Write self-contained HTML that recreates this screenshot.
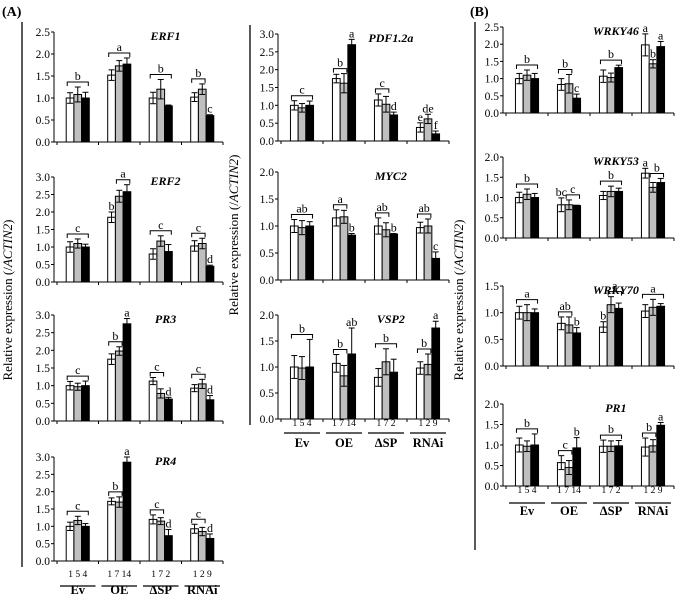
<!DOCTYPE html>
<html><head><meta charset="utf-8"><style>
html,body{margin:0;padding:0;background:#fff;}
svg{display:block;}
svg text{font-family:"Liberation Serif","DejaVu Serif",serif;}
</style></head><body>
<svg id="c" width="675" height="598" viewBox="0 0 675 598" font-family="Liberation Serif, serif">
<text x="2" y="16" font-size="14" font-weight="bold">(A)</text>
<text x="470" y="16" font-size="14" font-weight="bold">(B)</text>
<line x1="22" y1="22" x2="22" y2="567" stroke="#000" stroke-width="1.3"/>
<line x1="250" y1="25" x2="250" y2="425" stroke="#000" stroke-width="1.3"/>
<line x1="475" y1="22" x2="475" y2="550" stroke="#000" stroke-width="1.3"/>
<text transform="translate(12,300) rotate(-90)" text-anchor="middle" font-size="13">Relative expression (/<tspan font-style="italic">ACTIN2</tspan>)</text>
<text transform="translate(238,235) rotate(-90)" text-anchor="middle" font-size="13">Relative expression (/<tspan font-style="italic">ACTIN2</tspan>)</text>
<text transform="translate(463,300) rotate(-90)" text-anchor="middle" font-size="13">Relative expression (/<tspan font-style="italic">ACTIN2</tspan>)</text>
</svg>
<script>
const groups=["Ev","OE","ΔSP","RNAi"];
const lines=["1 5 4","1 7 14","1 7 2","1 2 9"];
const genes=["ERF1","ERF2","PR3","PR4","PDF1.2a","MYC2","VSP2","WRKY46","WRKY53","WRKY70","PR1"];
const vERF1=[[1.0,1.08,1.0],[1.52,1.73,1.77],[1.0,1.2,0.82],[1.02,1.2,0.6]];
const eERF1=[[.12,.17,.13],[.12,.12,.14],[.13,.22,.02],[.1,.12,.02]];
const aERF1=[[0,0,2,"b"],[1,0,2,"a"],[2,0,2,"b"],[3,0,1,"b"],[3,2,2,"c"]];
const vERF2=[[1.0,1.1,1.0],[1.85,2.45,2.58],[0.8,1.17,0.87],[1.03,1.1,0.45]];
const eERF2=[[.15,.13,.08],[.15,.17,.2],[.15,.15,.2],[.15,.15,.03]];
const aERF2=[[0,0,2,"c"],[1,0,0,"b"],[1,1,2,"a"],[2,0,2,"c"],[3,0,1,"c"],[3,2,2,"d"]];
const vPR3=[[1.0,0.97,1.0],[1.75,1.98,2.75],[1.13,0.78,0.62],[0.93,1.05,0.6]];
const ePR3=[[.12,.1,.13],[.15,.12,.15],[.1,.13,.05],[.1,.13,.12]];
const aPR3=[[0,0,2,"c"],[1,0,1,"b"],[1,2,2,"a"],[2,0,1,"c"],[2,2,2,"d"],[3,0,1,"c"],[3,2,2,"d"]];
const vPR4=[[1.0,1.17,1.0],[1.72,1.7,2.85],[1.2,1.15,0.73],[0.93,0.85,0.65]];
const ePR4=[[.12,.12,.08],[.1,.15,.15],[.13,.1,.18],[.13,.12,.13]];
const aPR4=[[0,0,2,"c"],[1,0,1,"b"],[1,2,2,"a"],[2,0,1,"c"],[2,2,2,"d"],[3,0,1,"c"],[3,2,2,"d"]];
const vPDF=[[1.0,0.93,1.0],[1.75,1.62,2.7],[1.15,1.03,0.73],[0.38,0.62,0.2]];
const ePDF=[[.13,.12,.12],[.12,.27,.15],[.17,.22,.08],[.13,.13,.08]];
const aPDF=[[0,0,2,"c"],[1,0,1,"b"],[1,2,2,"a"],[2,0,1,"c"],[2,2,2,"d"],[3,0,0,"e"],[3,1,1,"de"],[3,2,2,"f"]];
const vMYC2=[[1.0,0.97,1.0],[1.15,1.17,0.83],[1.0,0.93,0.85],[0.97,1.0,0.4]];
const eMYC2=[[.12,.13,.08],[.15,.12,.03],[.15,.13,.01],[.1,.13,.12]];
const aMYC2=[[0,0,2,"ab"],[1,0,1,"a"],[1,2,2,"b"],[2,0,1,"ab"],[2,2,2,"b"],[3,0,1,"ab"],[3,2,2,"c"]];
const vVSP2=[[1.0,0.98,1.0],[1.07,0.83,1.25],[0.8,1.1,0.9],[0.98,1.05,1.75]];
const eVSP2=[[.22,.22,.53],[.17,.2,.5],[.17,.25,.25],[.12,.2,.13]];
const aVSP2=[[0,0,2,"b"],[1,0,1,"b"],[1,2,2,"ab"],[2,0,2,"b"],[3,0,1,"b"],[3,2,2,"a"]];
const vW46=[[1.0,1.1,1.0],[0.83,0.85,0.43],[1.07,1.03,1.32],[1.98,1.43,1.93]];
const eW46=[[.15,.15,.15],[.17,.27,.12],[.18,.13,.07],[.32,.12,.15]];
const aW46=[[0,0,2,"b"],[1,0,1,"b"],[1,2,2,"c"],[2,0,2,"b"],[3,0,0,"a"],[3,1,1,"b"],[3,2,2,"a"]];
const vW53=[[1.0,1.08,1.0],[0.82,0.82,0.8],[1.05,1.15,1.15],[1.6,1.25,1.37]];
const eW53=[[.13,.13,.1],[.17,.12,.01],[.1,.13,.08],[.12,.12,.1]];
const aW53=[[0,0,2,"b"],[1,0,0,"bc"],[1,1,2,"c"],[2,0,2,"b"],[3,0,0,"a"],[3,1,2,"b"]];
const vW70=[[1.0,1.0,1.0],[0.8,0.77,0.62],[0.73,1.15,1.08],[1.03,1.1,1.12]];
const eW70=[[.12,.15,.07],[.12,.15,.1],[.1,.15,.1],[.12,.15,.05]];
const aW70=[[0,0,2,"a"],[1,0,1,"ab"],[1,2,2,"b"],[2,0,0,"b"],[2,1,2,"a"],[3,0,2,"a"]];
const vPR1=[[1.0,0.97,1.0],[0.57,0.45,0.93],[0.97,0.97,0.98],[0.95,0.98,1.48]];
const ePR1=[[.17,.13,.27],[.17,.17,.25],[.15,.13,.13],[.22,.15,.07]];
const aPR1=[[0,0,2,"b"],[1,0,1,"c"],[1,2,2,"b"],[2,0,2,"b"],[3,0,1,"b"],[3,2,2,"a"]];
const yMax=[2.5,3.0,3.0,3.0,3.0,2.0,2.0,2.5,2.0,1.5,2.0];

const svg=document.getElementById('c');
const NS="http://www.w3.org/2000/svg";
const FF="Liberation Serif, DejaVu Serif, serif";
function mk(tag,attrs,parent){const e=document.createElementNS(NS,tag);for(const k in attrs)e.setAttribute(k,attrs[k]);if(tag==='text')e.setAttribute('font-family',FF);(parent||svg).appendChild(e);return e;}
const fills=["#fff","#bfbfbf","#000"];
const layout=[
 [54,223,142,32],[54,223,282,177],[54,223,421,315],[54,223,561,457],
 [278,449,141,34],[278,449,280,172],[278,449,419,315],
 [503,674,113,27],[503,674,238,157],[503,674,366,286],[503,674,486,404]];
const V=[vERF1,vERF2,vPR3,vPR4,vPDF,vMYC2,vVSP2,vW46,vW53,vW70,vPR1];
const E=[eERF1,eERF2,ePR3,ePR4,ePDF,eMYC2,eVSP2,eW46,eW53,eW70,ePR1];
const A=[aERF1,aERF2,aPR3,aPR4,aPDF,aMYC2,aVSP2,aW46,aW53,aW70,aPR1];
genes.forEach((g,p)=>{
 const [x0,x1,y0,yt]=layout[p];const mx=yMax[p];
 const G=mk('g',{});
 
 
 const y=v=>y0-(v/mx)*(y0-yt);
 const gw=(x1-x0-3)/4;
 const gx=i=>x0+3+i*gw;
 const bw=7.7;
 const bx=(i,j)=>gx(i)+gw/2-1.5*bw+j*bw;
 mk('line',{x1:x0,y1:yt,x2:x0,y2:y0,stroke:'#000','stroke-width':1},G);
 mk('line',{x1:x0,y1:y0,x2:x1,y2:y0,stroke:'#000','stroke-width':1},G);
 for(let t=0;t<=mx+1e-9;t+=0.5){
  mk('line',{x1:x0-3,y1:y(t),x2:x0,y2:y(t),stroke:'#000'},G);
  const tx=mk('text',{x:x0-4,y:y(t)+4,'text-anchor':'end','font-size':11.5},G);tx.textContent=t.toFixed(1);
  
  
 }
 for(let i=0;i<=4;i++)mk('line',{x1:gx(i),y1:y0,x2:gx(i),y2:y0+3,stroke:'#000'},G);
 const tt=mk('text',{x:x0+(x1-x0)*0.66,y:yt+8,'text-anchor':'middle','font-size':12,'font-weight':'bold','font-style':'italic'},G);
 tt.textContent=g;
 
 
 const tops=[];
 V[p].forEach((gr,i)=>{tops.push([]);gr.forEach((v,j)=>{
  const X=bx(i,j),Y=y(v);
  const r=mk('rect',{x:X,y:Y,width:bw,height:y0-Y,fill:fills[j],stroke:'#000','stroke-width':1},G);
  
  
  const e=E[p][i][j];const cx=X+bw/2;
  mk('line',{x1:cx,y1:y(v+e),x2:cx,y2:y(Math.max(0,v-e)),stroke:'#000','stroke-width':1},G);
  mk('line',{x1:cx-3,y1:y(v+e),x2:cx+3,y2:y(v+e),stroke:'#000'},G);
  if(j<2)mk('line',{x1:cx-3,y1:y(Math.max(0,v-e)),x2:cx+3,y2:y(Math.max(0,v-e)),stroke:'#000'},G);
  tops[i].push(y(v+e));
 });});
 A[p].forEach(([i,s,t,lab])=>{
  let m=Infinity;for(let j=s;j<=t;j++)m=Math.min(m,tops[i][j]);
  const xa=bx(i,s)+1,xb=bx(i,t)+bw-1;
  let ly;
  if(s!==t){const by=m-5;
   mk('path',{d:`M${xa},${by+4}V${by}H${xb}V${by+4}`,fill:'none',stroke:'#000','stroke-width':1},G);ly=by-2;}
  else ly=m-2;
  const lt=mk('text',{x:(xa+xb)/2,y:ly,'text-anchor':'middle','font-size':12},G);lt.textContent=lab;
  
  
 });
});
[[54,223,577,586,594],[278,449,426,433,447],[503,674,493,503,515]].forEach(([x0,x1,ny,ly,gy],c)=>{
 const gw=(x1-x0-3)/4;
 groups.forEach((g,i)=>{
  const cx=x0+3+i*gw+gw/2;
  const n=mk('text',{x:cx,y:ny,'text-anchor':'middle','font-size':9.5});n.textContent=lines[i];
  
  
  mk('line',{x1:cx-gw/2+3,y1:ly,x2:cx+gw/2-3,y2:ly,stroke:'#000','stroke-width':1.3});
  const t=mk('text',{x:cx,y:gy,'text-anchor':'middle','font-size':12.5,'font-weight':'bold'});t.textContent=g;
  
  
 });
});
</script>
</body></html>
